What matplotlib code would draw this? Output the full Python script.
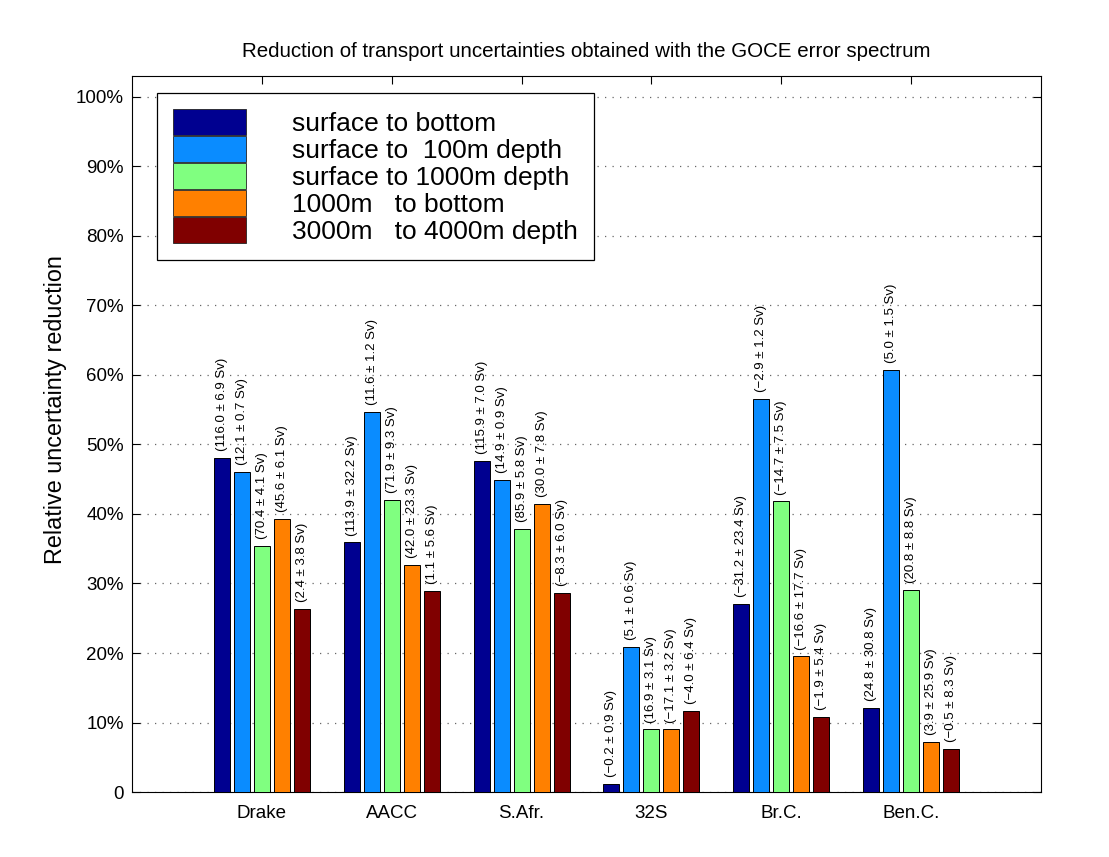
import numpy as np
import matplotlib.pyplot as plt
from matplotlib.patches import Patch

plt.rcParams['font.family'] = ['Liberation Sans', 'DejaVu Sans']

# Transect names and layer descriptions
secciones = ['Drake', 'AACC', 'S.Afr.', '32S', 'Br.C.', 'Ben.C.']
capas = ['surface to bottom', 'surface to  100m depth', 'surface to 1000m depth',
         '1000m   to bottom', '3000m   to 4000m depth']
colores = ['#000090', '#0a8cff', '#80ff80', '#ff8000', '#800000']

# Relative uncertainty reduction (%) per layer, one value per transect
fondo_total = [48.0, 35.9, 47.6, 1.2, 27.1, 12.1]
sup_100 = [46.0, 54.7, 44.9, 20.8, 56.6, 60.7]
sup_1000 = [35.4, 42.0, 37.8, 9.0, 41.8, 29.1]
m1000_fondo = [39.3, 32.6, 41.4, 9.0, 19.5, 7.2]
m3000_4000 = [26.3, 28.9, 28.6, 11.6, 10.8, 6.2]

# Transport estimates written above each bar
etiq_fondo_total = ['(116.0 ± 6.9 Sv)', '(113.9 ± 32.2 Sv)', '(115.9 ± 7.0 Sv)',
                    '(\u22120.2 ± 0.9 Sv)', '(\u221231.2 ± 23.4 Sv)', '(24.8 ± 30.8 Sv)']
etiq_sup_100 = ['(12.1 ± 0.7 Sv)', '(11.6 ± 1.2 Sv)', '(14.9 ± 0.9 Sv)',
                '(5.1 ± 0.6 Sv)', '(\u22122.9 ± 1.2 Sv)', '(5.0 ± 1.5 Sv)']
etiq_sup_1000 = ['(70.4 ± 4.1 Sv)', '(71.9 ± 9.3 Sv)', '(85.9 ± 5.8 Sv)',
                 '(16.9 ± 3.1 Sv)', '(\u221214.7 ± 7.5 Sv)', '(20.8 ± 8.8 Sv)']
etiq_m1000_fondo = ['(45.6 ± 6.1 Sv)', '(42.0 ± 23.3 Sv)', '(30.0 ± 7.8 Sv)',
                    '(\u221217.1 ± 3.2 Sv)', '(\u221216.6 ± 17.7 Sv)', '(3.9 ± 25.9 Sv)']
etiq_m3000_4000 = ['(2.4 ± 3.8 Sv)', '(1.1 ± 5.6 Sv)', '(\u22128.3 ± 6.0 Sv)',
                   '(\u22124.0 ± 6.4 Sv)', '(\u22121.9 ± 5.4 Sv)', '(\u22120.5 ± 8.3 Sv)']

series = [fondo_total, sup_100, sup_1000, m1000_fondo, m3000_4000]
etiquetas = [etiq_fondo_total, etiq_sup_100, etiq_sup_1000, etiq_m1000_fondo, etiq_m3000_4000]

fig = plt.figure(figsize=(11.09, 8.57), dpi=100)
ax = fig.add_axes([0.119, 0.0758, 0.8197, 0.8355])

x = np.arange(1, len(secciones) + 1)
n = len(series)
ancho_grupo = n / (n + 1.5)
paso = ancho_grupo / n
ancho = 0.8 * paso

for i, (valores, textos) in enumerate(zip(series, etiquetas)):
    pos = x - ancho_grupo / 2 + paso * (i + 0.5)
    ax.bar(pos, valores, width=ancho, color=colores[i], edgecolor='black',
           linewidth=0.7, zorder=3)
    for xi, v, t in zip(pos, valores, textos):
        ax.text(xi, v + 1.0, t, rotation=90, ha='center', va='bottom',
                fontsize=9.5, zorder=4)

ax.set_xlim(0, 7)
ax.set_ylim(0, 103)
ax.set_xticks(x)
ax.set_xticklabels(secciones, fontsize=13.5)
yt = np.arange(0, 101, 10)
ax.set_yticks(yt)
ax.set_yticklabels(['0'] + ['%d%%' % v for v in yt[1:]], fontsize=13.5)
ax.tick_params(direction='in', length=6, width=0.8, top=True, right=True, pad=6)
ax.tick_params(axis='x', pad=9)
ax.yaxis.grid(True, linestyle=(0, (1, 5)), color='#666666', linewidth=0.9, zorder=0)

for s in ax.spines.values():
    s.set_linewidth(0.8)

ax.set_ylabel('Relative uncertainty reduction', fontsize=16.8)
ax.yaxis.set_label_coords(-0.071, 0.534)
ax.set_title('Reduction of transport uncertainties obtained with the GOCE error spectrum',
             fontsize=14.8, pad=14)

handles = [Patch(facecolor=c, edgecolor='#222222', linewidth=0.6) for c in colores]
leg = ax.legend(handles, capas, loc='upper left', bbox_to_anchor=(0.0275, 0.976),
                fontsize=19, handlelength=2.77, handleheight=1.15, labelspacing=0,
                handletextpad=1.74, borderpad=0.6, borderaxespad=0,
                fancybox=False, edgecolor='black', framealpha=1)
leg.get_frame().set_linewidth(0.9)
leg.set_zorder(5)

fig.savefig('out.png', dpi=100)
